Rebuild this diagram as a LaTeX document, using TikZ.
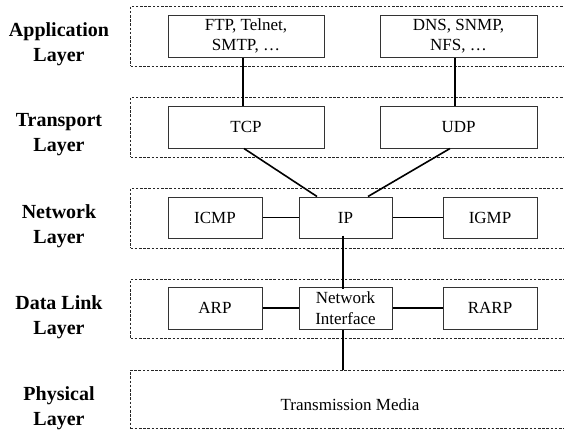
\documentclass[tikz,border=0pt]{standalone}
\usepackage{fontspec}
\setmainfont{Liberation Serif}
\begin{document}
\begin{tikzpicture}[x=1pt,y=-1pt,
  layerbox/.style={draw=black!85, line width=0.8pt, dash pattern=on 2.6pt off 1.6pt, minimum width=480pt, inner sep=0pt},
  protobox/.style={draw=black!80, line width=1pt, inner sep=0pt, align=center, font=\fontsize{17}{20.5}\selectfont},
  layerlabel/.style={align=center, inner sep=0pt, font=\fontsize{20}{25}\selectfont\bfseries},
  conn/.style={draw=black, line width=1.6pt}]
\useasboundingbox (0,0) rectangle (564,429);
\clip (0,0) rectangle (564,429);
% layer frames
\node[layerbox, minimum height=60pt] (appL) at (370.5,36) {};
\node[layerbox, minimum height=60pt] (traL) at (370.5,127) {};
\node[layerbox, minimum height=60pt] (netL) at (370.5,218) {};
\node[layerbox, minimum height=59pt] (dlL) at (370.5,308.5) {};
\node[layerbox, minimum height=58.5pt] (phyL) at (370.5,399.25) {};
% layer labels
\node[layerlabel] (appT) at (59,44) {Application\\Layer};
\node[layerlabel] (traT) at (59,135) {Transport\\Layer};
\node[layerlabel] (netT) at (59,226) {Network\\Layer};
\node[layerlabel] (dlT) at (59,317) {Data Link\\Layer};
\node[layerlabel] (phyT) at (59,408.5) {Physical\\Layer};
% protocol boxes
\node[protobox, minimum width=156pt, minimum height=42pt] (ftp) at (246,36) {FTP, Telnet,\\SMTP, \dots};
\node[protobox, minimum width=157pt, minimum height=42pt] (dns) at (458.5,36) {DNS, SNMP,\\NFS, \dots};
\node[protobox, minimum width=156pt, minimum height=42pt] (tcp) at (246,127) {TCP};
\node[protobox, minimum width=157pt, minimum height=42pt] (udp) at (458.5,127) {UDP};
\node[protobox, minimum width=94pt, minimum height=41pt] (icmp) at (215,217.5) {ICMP};
\node[protobox, minimum width=93pt, minimum height=41pt] (ip) at (345.5,217.5) {IP};
\node[protobox, minimum width=94pt, minimum height=41pt] (igmp) at (490,217.5) {IGMP};
\node[protobox, minimum width=94pt, minimum height=42pt] (arp) at (215,308) {ARP};
\node[protobox, minimum width=93pt, minimum height=42pt] (ni) at (345.5,308) {Network\\Interface};
\node[protobox, minimum width=94pt, minimum height=42pt] (rarp) at (490,308) {RARP};
\node[font=\fontsize{17}{20.5}\selectfont, inner sep=0pt] (media) at (350,405) {Transmission Media};
% connectors
\draw[conn] ([xshift=-3pt]ftp.south) -- ([xshift=-3pt]tcp.north);
\draw[conn] ([xshift=-3.5pt]dns.south) -- ([xshift=-3.5pt]udp.north);
\draw[conn] ([xshift=-2pt]tcp.south) -- ([xshift=-28.5pt]ip.north);
\draw[conn] ([xshift=-8.5pt]udp.south) -- ([xshift=22.5pt]ip.north);
\draw[conn] (icmp.east) -- (ip.west);
\draw[conn] (ip.east) -- (igmp.west);
\draw[conn] (arp.east) -- (ni.west);
\draw[conn] (ni.east) -- (rarp.west);
\draw[conn] ([xshift=-2.5pt,yshift=3pt]ip.south) -- ([xshift=-2.5pt,yshift=-2pt]ni.north);
\draw[conn] ([xshift=-2.5pt]ni.south) -- ([xshift=-2.5pt]ni.south |- phyL.north);
\end{tikzpicture}
\end{document}
